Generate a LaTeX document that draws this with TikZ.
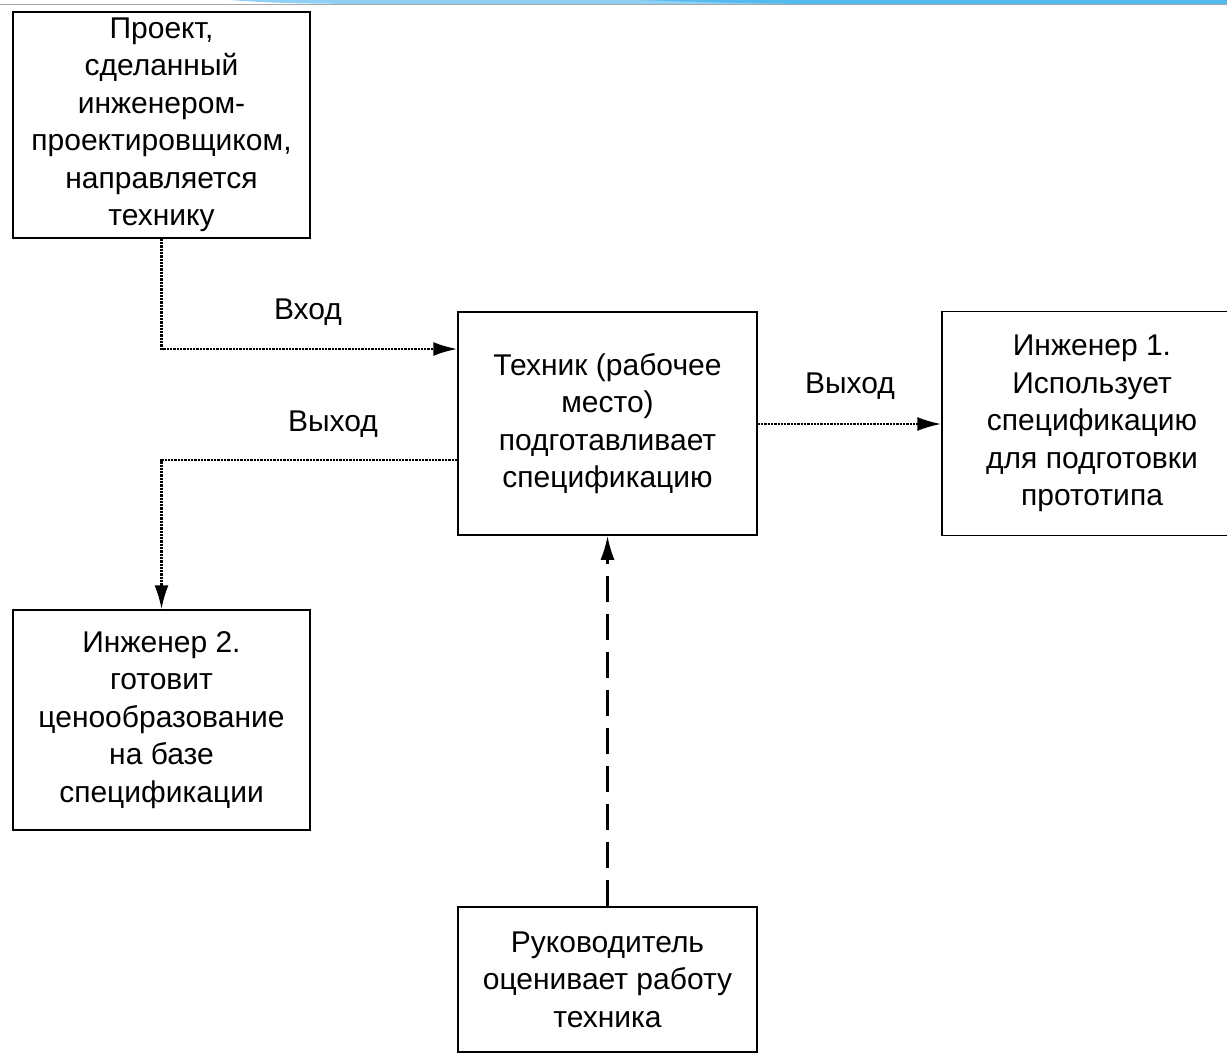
\documentclass[tikz,border=0pt]{standalone}
\usepackage{fontspec}
\setmainfont{Liberation Sans}
\usetikzlibrary{arrows.meta}
\newcommand{\boxfont}{\fontsize{30}{37.5}\selectfont}
\definecolor{bannerlight}{HTML}{8FD0F4}
\definecolor{bannerdark}{HTML}{55BAEE}
\begin{document}
\begin{tikzpicture}[x=1pt,y=-1pt,
  box/.style={draw=black, line width=1.5pt, inner sep=0pt, align=center, font=\boxfont},
  lbl/.style={font=\boxfont, inner sep=0pt},
  conn/.style={line width=2.3pt, densely dotted, -{Latex[length=24pt,width=14pt]}},
  dashconn/.style={line width=2.4pt, dash pattern=on 26pt off 12pt, -{Latex[length=24pt,width=14pt]}}]
\useasboundingbox (0,0) rectangle (1227,1056);
\clip (0,0) rectangle (1227,1056);
% slide banner remnant at the top
\fill[bannerlight] (230,0) .. controls (280,4) and (330,4) .. (420,4) -- (1227,4) -- (1227,0) -- cycle;
\fill[bannerdark] (640,0) .. controls (700,2) and (760,4) .. (830,4) -- (1227,4) -- (1227,0) -- cycle;
\draw[black!35, line width=1pt] (0,4.5) -- (1227,4.5);
% boxes
\node[box, minimum width=297pt, minimum height=226pt] (proj) at (161.5,125)
  {Проект,\\сделанный\\инженером-\\проектировщиком,\\направляется\\технику};
\node[box, minimum width=299pt, minimum height=223pt] (tech) at (607.5,423.5)
  {Техник (рабочее\\место)\\подготавливает\\спецификацию};
\node[box, minimum width=300pt, minimum height=224pt] (eng1) at (1092,423.5)
  {Инженер 1.\\Использует\\спецификацию\\для подготовки\\прототипа};
\node[box, minimum width=297pt, minimum height=220pt] (eng2) at (161.5,720)
  {Инженер 2.\\готовит\\ценообразование\\на базе\\спецификации};
\node[box, minimum width=299pt, minimum height=145pt] (boss) at (607.5,979.5)
  {Руководитель\\оценивает работу\\техника};
% labels
\node[lbl] (lin) at (308,312) {Вход};
\node[lbl] (lout1) at (333,424) {Выход};
\node[lbl] (lout2) at (850,386) {Выход};
% connectors
\coordinate (yin) at (0,349);
\coordinate (yout) at (0,460);
\coordinate (yr) at (0,424);
\draw[conn] (proj.south) |- (tech.west |- yin);
\draw[conn] (tech.west |- yout) -| (eng2.north);
\draw[conn] (tech.east |- yr) -- (eng1.west |- yr);
\draw[dashconn] (boss.north) -- (tech.south);
\end{tikzpicture}
\end{document}
